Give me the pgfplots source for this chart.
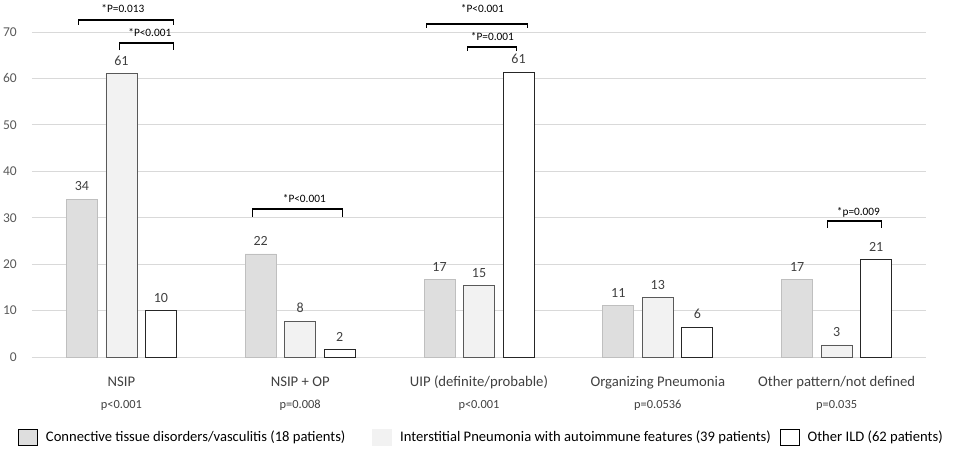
\documentclass[border=0pt]{standalone}
\usepackage{fontspec}
\setmainfont{Carlito}
\usepackage{pgfplots}
\pgfplotsset{compat=1.18}
\definecolor{cA}{HTML}{DEDEDE}
\definecolor{cAb}{HTML}{BFBFBF}
\definecolor{cB}{HTML}{F2F2F2}
\definecolor{cBb}{HTML}{595959}
\definecolor{cCb}{HTML}{262626}
\definecolor{gridc}{HTML}{D9D9D9}
\definecolor{txt}{HTML}{404040}
\definecolor{ticktxt}{HTML}{595959}
\begin{document}
\begin{tikzpicture}
\useasboundingbox (-32pt,-92pt) rectangle (925pt,357pt);
\begin{axis}[
  at={(0pt,0pt)}, anchor=south west,
  scale only axis, width=894pt, height=325pt,
  xmin=-0.5, xmax=4.5, ymin=0, ymax=70,
  ybar, bar width=31pt,
  axis line style={draw=none},
  tick style={draw=none},
  ymajorgrids, grid style={gridc, line width=0.8pt},
  ytick={0,10,...,70},
  /pgf/number format/assume math mode=true,
  yticklabel style={inner sep=0pt, xshift=-15pt, text=ticktxt, font=\fontsize{13.5}{16}\selectfont},
  xtick={0,1,2,3,4},
  xticklabels={
    {\strut NSIP\\{\fontsize{12.4}{21.5}\selectfont p<0.001}},
    {\strut NSIP + OP\\{\fontsize{12.4}{21.5}\selectfont p=0.008}},
    {\strut UIP (definite/probable)\\{\fontsize{12.4}{21.5}\selectfont p<0.001}},
    {\strut Organizing Pneumonia\\{\fontsize{12.4}{21.5}\selectfont p=0.0536}},
    {\strut Other pattern/not defined\\{\fontsize{12.4}{21.5}\selectfont p=0.035}}},
  xticklabel style={align=center, inner sep=0pt, yshift=-10pt, text=txt, font=\fontsize{14.7}{21.5}\selectfont},
  nodes near coords,
  every node near coord/.append style={inner sep=0pt, yshift=8pt, text=txt, font=\fontsize{14}{16}\selectfont, /pgf/number format/fixed, /pgf/number format/precision=0},
  clip=false,
  legend image code/.code={\draw[#1, line width=0.8pt] (0pt,-8pt) rectangle (19pt,8pt);},
  legend columns=3,
  legend style={draw=none, fill=none, inner sep=0pt, anchor=west,
    at={([xshift=-14pt,yshift=-80pt]axis description cs:0,0)},
    nodes={inner sep=0pt, font=\fontsize{14.6}{17}\selectfont, text=black},
    /tikz/column 1/.style={column sep=8pt},
    /tikz/column 2/.style={column sep=27pt},
    /tikz/column 3/.style={column sep=8pt},
    /tikz/column 4/.style={column sep=9pt},
    /tikz/column 5/.style={column sep=8pt}},
  legend cell align=left,
]
\addlegendimage{fill=cA, draw=black}
\addlegendentry{Connective tissue disorders/vasculitis (18 patients)}
\addlegendimage{fill=cB, draw=cB}
\addlegendentry{Interstitial Pneumonia with autoimmune features (39 patients)}
\addlegendimage{fill=white, draw=black}
\addlegendentry{Other ILD (62 patients)}

\addplot[forget plot, bar shift=-39.5pt, fill=cA, draw=cAb, line width=0.8pt] coordinates {(0,34) (1,22.2) (2,16.7) (3,11.1) (4,16.7)};
\addplot[forget plot, bar shift=0pt, fill=cB, draw=cBb, line width=0.8pt] coordinates {(0,61) (1,7.7) (2,15.4) (3,12.8) (4,2.6)};
\addplot[forget plot, bar shift=39.5pt, fill=white, draw=cCb, line width=0.8pt] coordinates {(0,10) (1,1.6) (2,61.3) (3,6.4) (4,21)};

\begin{scope}[line width=1.6pt]
\draw (axis cs:-0.24,71.6) |- (axis cs:0.291,72.6) -- (axis cs:0.291,71.6);
\draw (axis cs:-0.011,66.1) |- (axis cs:0.291,67.6) -- (axis cs:0.291,66.1);
\draw (axis cs:0.733,30.2) |- (axis cs:1.236,31.9) -- (axis cs:1.236,30.2);
\draw (axis cs:1.706,70.9) |- (axis cs:2.271,71.7) -- (axis cs:2.271,70.9);
\draw (axis cs:1.935,66.0) |- (axis cs:2.209,66.8) -- (axis cs:2.209,66.0);
\draw (axis cs:3.949,27.8) |- (axis cs:4.251,29.3) -- (axis cs:4.251,27.8);
\end{scope}
\begin{scope}[every node/.style={font=\fontsize{11.3}{13}\selectfont, inner sep=0pt}]
\node at (axis cs:0.008,74.95) {*P=0.013};
\node at (axis cs:0.159,69.8) {*P<0.001};
\node at (axis cs:1.023,34.2) {*P<0.001};
\node at (axis cs:2.019,74.95) {*P<0.001};
\node at (axis cs:2.075,69.1) {*P=0.001};
\node at (axis cs:4.122,31.2) {*p=0.009};
\end{scope}
\end{axis}
\end{tikzpicture}
\end{document}
